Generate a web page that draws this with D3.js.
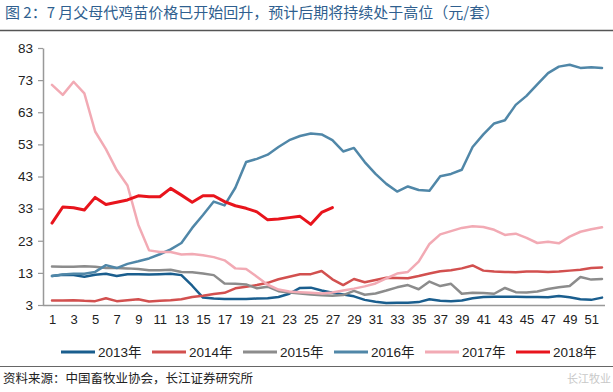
<!DOCTYPE html>
<html><head><meta charset="utf-8">
<script src="https://cdn.jsdelivr.net/npm/d3@7"></script>
<style>
html,body{margin:0;padding:0;background:#fff;}
svg{display:block;}
</style></head>
<body>
<svg id="c" width="613" height="392"></svg>
<script>
const titleText = "图 2：7 月父母代鸡苗价格已开始回升，预计后期将持续处于高位（元/套）";
const sourceText = "资料来源：中国畜牧业协会，长江证券研究所";
const yTicks = [3, 13, 23, 33, 43, 53, 63, 73, 83];
const xTicks = d3.range(1, 52, 2);
const seriesNames = ["2013年", "2014年", "2015年", "2016年", "2017年", "2018年"];
const seriesColors = ["#1a5e8e", "#d2504f", "#8c8c8c", "#5087a8", "#f2aab4", "#e8141c"];
const seriesWidths = [2.5, 2.5, 2.5, 2.5, 2.5, 3];

const v2013 = [12,12.4,12.3,11.8,12.4,12.7,12,12.6,12.6,12.5,12.6,12.7,12.3,9,5.3,5,4.9,4.9,4.9,5,5.1,5.5,6.5,8.3,8.4,7.5,6.8,6.3,5.7,4.6,4,3.6,3.7,3.7,3.9,4.8,4.3,4.2,4.4,5.1,5.5,5.6,5.6,5.6,5.5,5.5,5.4,5.8,5.4,4.8,4.6,5.3];
const v2014 = [4.4,4.4,4.5,4.3,4.2,5.1,4.2,4.5,4.8,4.1,4.3,4.5,4.8,5.5,5.9,6.4,6.8,8.2,8.7,9.2,9.9,11,11.8,12.6,12.6,13.6,11,9.2,11.1,10.1,10.8,11.5,11.4,11.3,12,12.8,13.5,13.8,14.4,15.3,13.7,13.4,13.3,13.2,13.4,13.4,13.3,13.4,13.7,14,14.5,14.7];
const v2015 = [15,14.9,14.9,15.1,14.9,14.5,14.5,14.4,14.2,13.8,13.8,14,13.3,13.2,12.8,12.3,9.7,9.6,9.4,8.2,8.7,7.3,6.9,6.6,6.3,6,5.9,6.1,7.4,6.2,6.6,7.5,8.5,9.2,7.9,10.3,8.9,9.6,6.5,6.8,6.7,6.5,8.3,7,6.9,7.2,8,8.5,8.9,11.7,10.9,11.1];
const v2016 = [12,12.5,12.7,12.7,13.3,15.4,14.5,15.8,16.6,17.5,18.8,20.3,22.3,27,31,35.2,34,39.5,47.5,48.5,49.8,52.2,54.3,55.6,56.4,56.1,54.3,50.8,51.9,47.5,43.8,40.7,38.3,39.9,38.8,38.6,43.1,43.8,45.1,52.2,56.1,59.5,60.5,65.3,68.1,71.7,75.2,77.2,77.8,76.8,77,76.8];
const v2017 = [71.5,68.4,72.5,68.9,57,51.5,45,40.2,28,20,19.5,19.5,18.7,18.9,18.5,17.9,16.9,14.4,14.2,11.8,9.3,7.8,7.2,7,6.8,6.6,6.9,7.5,8.1,8.8,9.7,11.3,12.8,13.3,16.5,22,25,26,27,27.5,27.3,26.4,24.8,25.2,23.9,22.3,22.7,22.2,24.3,25.8,26.6,27.2];
const v2018 = [28.5,33.5,33.3,32.6,36.5,34.3,35,35.7,37,36.7,36.7,39.3,37.2,35,37,37,35.2,33.9,33.1,32,29.5,29.8,30.2,30.6,28.1,31.8,33.3];
const seriesValues = [v2013, v2014, v2015, v2016, v2017, v2018];

const svg = d3.select("#c");
const fontLat = "'Liberation Sans', Arial, 'Noto Sans CJK SC', sans-serif";
const fontCJK = "'Noto Sans CJK SC', 'Liberation Sans', sans-serif";

// title
svg.append("text").attr("x", 5).attr("y", 18)
  .attr("font-family", fontCJK).attr("font-size", 15).attr("fill", "#2f5f8f")
  .text(titleText);
svg.append("line").attr("x1", 0).attr("x2", 613).attr("y1", 30.5).attr("y2", 30.5)
  .attr("stroke", "#555").attr("stroke-width", 1.5);

const x = d3.scaleLinear().domain([1, 52]).range([52, 602]);
const y = d3.scaleLinear().domain([3, 83]).range([305, 48]);

// y axis
const yAxis = d3.axisLeft(y).tickValues(yTicks).tickSize(5).tickPadding(5).tickSizeOuter(0);
const gy = svg.append("g").attr("transform", "translate(43,0)").call(yAxis);
gy.select(".domain").attr("stroke", "#999").attr("stroke-width", 1.5);
gy.selectAll(".tick line").attr("stroke", "#999").attr("stroke-width", 1.2);
gy.selectAll(".tick text").attr("font-family", fontLat).attr("font-size", 13.5).attr("fill", "#222");

// x axis
const xAxis = d3.axisBottom(x).tickValues(xTicks).tickSize(0).tickPadding(10).tickSizeOuter(0);
const gx = svg.append("g").attr("transform", "translate(0,305)").call(xAxis);
gx.select(".domain").attr("stroke", "#999").attr("stroke-width", 1.5).attr("d", "M43,0.5H605");
gx.selectAll(".tick text").attr("font-family", fontLat).attr("font-size", 13).attr("fill", "#222");

// lines
const line = d3.line().x((d, i) => x(i + 1)).y(d => y(d));
seriesValues.forEach((vals, k) => {
  svg.append("path").datum(vals)
    .attr("d", line).attr("fill", "none")
    .attr("stroke", seriesColors[k]).attr("stroke-width", seriesWidths[k])
    .attr("stroke-linejoin", "round").attr("stroke-linecap", "round");
});

// legend
const legend = svg.append("g").attr("transform", "translate(0,352)");
seriesNames.forEach((name, k) => {
  const lx = 61 + k * 91;
  legend.append("line").attr("x1", lx).attr("x2", lx + 34).attr("y1", 0).attr("y2", 0)
    .attr("stroke", seriesColors[k]).attr("stroke-width", 3);
  legend.append("text").attr("x", lx + 37).attr("y", 5)
    .attr("font-family", fontLat).attr("font-size", 13.5).attr("fill", "#222")
    .text(name);
});

// bottom rule + source
svg.append("line").attr("x1", 0).attr("x2", 613).attr("y1", 366.5).attr("y2", 366.5)
  .attr("stroke", "#666").attr("stroke-width", 1);
svg.append("text").attr("x", 3).attr("y", 383)
  .attr("font-family", fontCJK).attr("font-size", 12.5).attr("fill", "#222")
  .text(sourceText);

// watermark
svg.append("text").attr("x", 611).attr("y", 383).attr("text-anchor", "end")
  .attr("font-family", fontCJK).attr("font-size", 11).attr("fill", "#c8c8c8")
  .text("长江牧业");
</script>
</body></html>
